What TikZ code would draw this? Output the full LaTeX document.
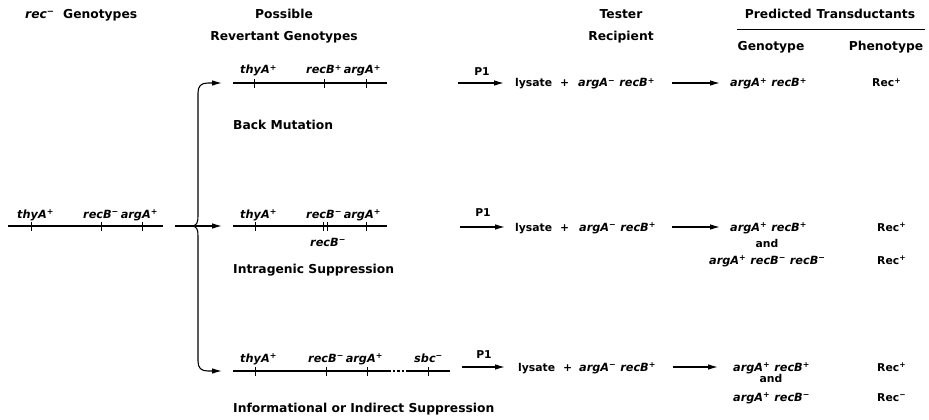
\documentclass[tikz,border=0pt]{standalone}
\usepackage{fontspec}
\setmainfont{DejaVu Sans}
\usetikzlibrary{arrows.meta}
\newcommand\gp{\textsuperscript{+}}
\newcommand\gm{\textsuperscript{−}}
\tikzset{
  hdr/.style={font=\fontsize{12.3}{14}\selectfont\bfseries, inner sep=0pt},
  gene/.style={font=\fontsize{11.3}{13}\selectfont\bfseries\itshape, inner sep=0pt, anchor=base west},
  txt/.style={font=\fontsize{10.8}{12}\selectfont\bfseries, inner sep=0pt, anchor=base west},
  chrom/.style={line width=1.5pt},
  tickmark/.style={line width=0.9pt},
  arr/.style={line width=1.1pt, -{Latex[length=10pt,width=5.5pt]}},
}
\begin{document}
\begin{tikzpicture}[x=1pt,y=-1pt]
\useasboundingbox (0,0) rectangle (929,420);
% headers
\node[hdr, anchor=base west] (h1) at (25,19) {\itshape rec\gm\upshape\ \ Genotypes};
\node[hdr, anchor=base] (h2a) at (284,19) {Possible};
\node[hdr, anchor=base] (h2b) at (284,41) {Revertant Genotypes};
\node[hdr, anchor=base] (h3a) at (621,19) {Tester};
\node[hdr, anchor=base] (h3b) at (621,41) {Recipient};
\node[hdr, anchor=base] (h4) at (830,19) {Predicted\hspace{5pt}Transductants};
\coordinate (ul1) at (737,29);
\coordinate (ul2) at (925,29);
\draw[line width=0.9pt] (ul1) -- (ul2);
\node[hdr, anchor=base] (h5) at (771,51) {Genotype};
\node[hdr, anchor=base] (h6) at (886,51) {Phenotype};

% rec- genotype (left)
\coordinate (l0a) at (8,226);
\coordinate (l0b) at (163,226);
\draw[chrom] (l0a) -- (l0b);
\foreach \x in {31,101,142} \draw[tickmark] (\x,222) -- (\x,231);
\node[gene] (g0a) at (17,218) {thyA\gp};
\node[gene] (g0b) at (83,218) {recB\gm\,argA\gp};

% brace and arrows
\coordinate (src) at (175,226);
\coordinate (jn) at (193,226);
\coordinate (t1) at (222,83);
\coordinate (t2) at (222,226);
\coordinate (t3) at (222,371);
\draw[arr] (src) -- (t2);
\draw[arr] (jn) .. controls (197,225) and (198,222) .. (198,216) -- (198,93) .. controls (198,86) and (201,83) .. (208,83) -- (t1);
\draw[arr] (jn) .. controls (197,227) and (198,230) .. (198,236) -- (198,361) .. controls (198,368) and (201,371) .. (208,371) -- (t3);

% ---------- row 1: back mutation ----------
\coordinate (r1a) at (233,83);
\coordinate (r1b) at (387,83);
\draw[chrom] (r1a) -- (r1b);
\foreach \x in {254,324,366} \draw[tickmark] (\x,79) -- (\x,88);
\node[gene] (g1a) at (240,74) {thyA\gp};
\node[gene] (g1b) at (306,74) {recB\gp\,argA\gp};
\node[hdr, anchor=base west] (lab1) at (233,129) {Back Mutation};
\coordinate (p1a) at (458,83);
\coordinate (p1b) at (504,83);
\draw[arr] (p1a) -- (p1b);
\node[txt, anchor=base] (p1l1) at (482,76) {P1};
\node[txt] (ly1) at (515,87) {lysate};
\node[txt] (pl1) at (560,87) {+};
\node[gene] (te1) at (578,87) {argA\gm\ recB\gp};
\coordinate (q1a) at (672,83);
\coordinate (q1b) at (720,83);
\draw[arr] (q1a) -- (q1b);
\node[gene] (pt1) at (730,87) {argA\gp\ recB\gp};
\node[txt] (ph1) at (872,87) {Rec\gp};

% ---------- row 2: intragenic suppression ----------
\coordinate (r2a) at (233,226);
\coordinate (r2b) at (387,226);
\draw[chrom] (r2a) -- (r2b);
\foreach \x in {255,323,327,366} \draw[tickmark] (\x,222) -- (\x,231);
\node[gene] (g2a) at (240,218) {thyA\gp};
\node[gene] (g2b) at (306,218) {recB\gm\,argA\gp};
\node[gene] (g2c) at (310,246) {recB\gm};
\node[hdr, anchor=base west] (lab2) at (233,273) {Intragenic Suppression};
\coordinate (p2a) at (460,227);
\coordinate (p2b) at (505,227);
\draw[arr] (p2a) -- (p2b);
\node[txt, anchor=base] (p1l2) at (483,216) {P1};
\node[txt] (ly2) at (515,231) {lysate};
\node[txt] (pl2) at (560,231) {+};
\node[gene] (te2) at (579,231) {argA\gm\ recB\gp};
\coordinate (q2a) at (672,227);
\coordinate (q2b) at (720,227);
\draw[arr] (q2a) -- (q2b);
\node[gene] (pt2a) at (730,231) {argA\gp\ recB\gp};
\node[txt, anchor=base] (and2) at (767,247) {and};
\node[gene] (pt2b) at (709,264) {argA\gp\ recB\gm\ recB\gm};
\node[txt] (ph2a) at (877,231) {Rec\gp};
\node[txt] (ph2b) at (877,264) {Rec\gp};

% ---------- row 3: informational / indirect suppression ----------
\coordinate (r3a) at (233,371);
\coordinate (r3b) at (388,371);
\coordinate (r3c) at (406,371);
\coordinate (r3d) at (450,371);
\draw[chrom] (r3a) -- (r3b);
\draw[chrom, dash pattern=on 2.5pt off 2pt] (r3b) -- (r3c);
\draw[chrom] (r3c) -- (r3d);
\foreach \x in {255,326,367,428} \draw[tickmark] (\x,367) -- (\x,376);
\node[gene] (g3a) at (240,362) {thyA\gp};
\node[gene] (g3b) at (308,362) {recB\gm\,argA\gp};
\node[gene] (g3c) at (414,362) {sbc\gm};
\node[hdr, anchor=base west] (lab3) at (233,412) {Informational or Indirect Suppression};
\coordinate (p3a) at (462,367);
\coordinate (p3b) at (505,367);
\draw[arr] (p3a) -- (p3b);
\node[txt, anchor=base] (p1l3) at (484,358) {P1};
\node[txt] (ly3) at (518,371) {lysate};
\node[txt] (pl3) at (563,371) {+};
\node[gene] (te3) at (579,371) {argA\gm\ recB\gp};
\coordinate (q3a) at (673,367);
\coordinate (q3b) at (718,367);
\draw[arr] (q3a) -- (q3b);
\node[gene] (pt3a) at (733,371) {argA\gp\ recB\gp};
\node[txt, anchor=base] (and3) at (771,382) {and};
\node[gene] (pt3b) at (733,401) {argA\gp\ recB\gm};
\node[txt] (ph3a) at (877,371) {Rec\gp};
\node[txt] (ph3b) at (877,401) {Rec\gm};
\end{tikzpicture}
\end{document}
